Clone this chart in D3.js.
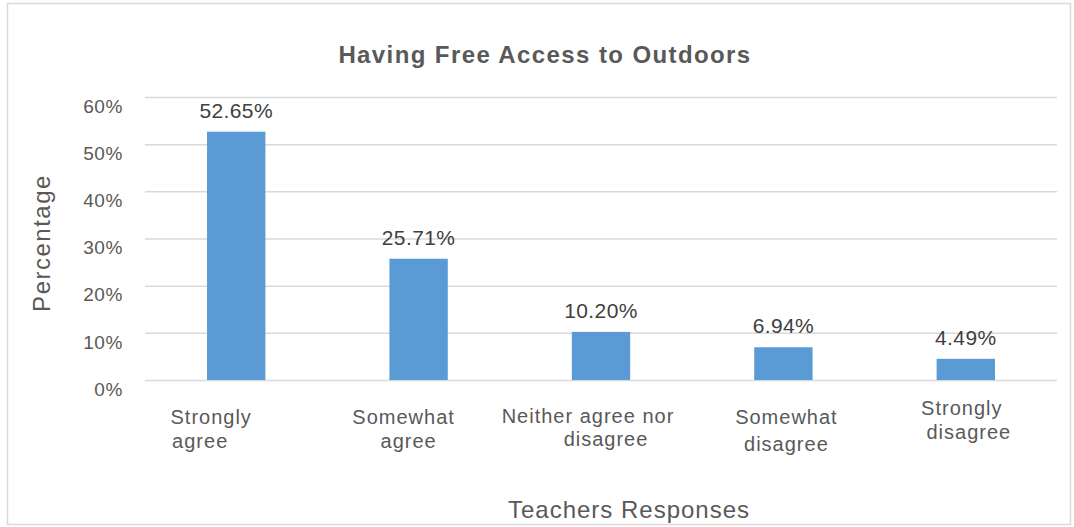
<!DOCTYPE html>
<html><head><meta charset="utf-8">
<script src="https://cdn.jsdelivr.net/npm/d3@7"></script>
<style>
body{margin:0;background:#fff;}
svg{display:block;}
</style></head>
<body><svg id="c" width="1074" height="527"></svg>
<script>
const categories = ["Strongly agree","Somewhat agree","Neither agree nor disagree","Somewhat disagree","Strongly disagree"];
const categoryLines = [["Strongly","agree"],["Somewhat","agree"],["Neither agree nor","disagree"],["Somewhat","disagree"],["Strongly","disagree"]];
const values = [52.65, 25.71, 10.20, 6.94, 4.49];
const valueLabels = ["52.65%","25.71%","10.20%","6.94%","4.49%"];
const yTicks = [0,10,20,30,40,50,60];

const svg = d3.select("#c");
const m={left:145,right:1057,top:97,bottom:380};
const sans = "'Liberation Sans',Arial,sans-serif";
const txt = "#595959";

svg.append("rect").attr("x",7.5).attr("y",3.5).attr("width",1063).attr("height",521)
  .attr("fill","#fff").attr("stroke","#d9d9d9").attr("stroke-width",1.5);

const x = d3.scaleBand().domain(categories).range([m.left,m.right]).paddingInner(0.68).paddingOuter(0.34);
const y = d3.scaleLinear().domain([0,60]).range([m.bottom,m.top]);

const yAxis = d3.axisLeft(y).tickValues(yTicks).tickFormat(d=>d+"%").tickSize(-(m.right-m.left)).tickPadding(22);
const ga = svg.append("g").attr("transform",`translate(${m.left},0)`).call(yAxis);
ga.select(".domain").remove();
ga.selectAll(".tick line").attr("stroke","#d9d9d9").attr("stroke-width",1.5);
ga.selectAll(".tick text").attr("fill",txt).attr("font-family",sans).attr("font-size",19)
  .attr("letter-spacing",0.6).attr("dy","0.8em");

svg.append("g").selectAll("rect").data(values).join("rect")
  .attr("x",(d,i)=>x(categories[i])).attr("width",x.bandwidth())
  .attr("y",d=>y(d)).attr("height",d=>y(0)-y(d)).attr("fill","#5b9bd5");

svg.append("g").selectAll("text").data(values).join("text")
  .attr("x",(d,i)=>x(categories[i])+x.bandwidth()/2).attr("y",d=>y(d)-14)
  .attr("text-anchor","middle").attr("font-family",sans).attr("font-size",21).attr("letter-spacing",0.4)
  .attr("fill","#404040")
  .text((d,i)=>valueLabels[i]);

// per-line label placement tweaks (style only)
const lineDx = [[-25,-36],[-15,-10],[-13,5],[3,3],[-4,3]];
const lineY = [[424,448],[424,448],[423,446],[424,451],[415,439]];
const cg = svg.append("g");
categories.forEach((c,i)=>{
  const cx = x(c)+x.bandwidth()/2;
  const t = cg.append("text").attr("text-anchor","middle").attr("font-family",sans)
    .attr("font-size",20).attr("letter-spacing",1).attr("fill",txt);
  categoryLines[i].forEach((l,j)=>{
    t.append("tspan").attr("x", cx + lineDx[i][j]).attr("y",lineY[i][j]).text(l);
  });
});

svg.append("text").attr("x",545).attr("y",63).attr("text-anchor","middle")
  .attr("font-family",sans).attr("font-weight","bold").attr("font-size",24).attr("letter-spacing",1.4)
  .attr("fill",txt).text("Having Free Access to Outdoors");

svg.append("text").attr("transform","translate(50,243) rotate(-90)").attr("text-anchor","middle")
  .attr("font-family",sans).attr("font-size",24).attr("letter-spacing",1.5).attr("fill",txt).text("Percentage");

svg.append("text").attr("x",629).attr("y",518).attr("text-anchor","middle")
  .attr("font-family",sans).attr("font-size",24).attr("letter-spacing",1).attr("fill",txt).text("Teachers Responses");
</script></body></html>
